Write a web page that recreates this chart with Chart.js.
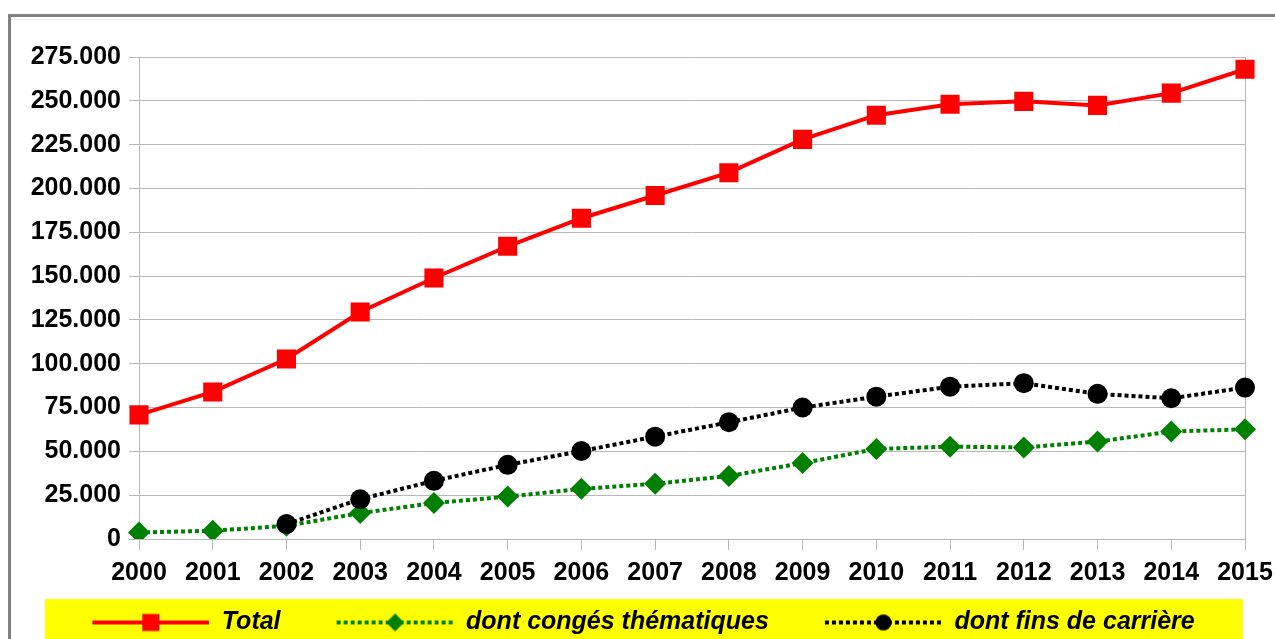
<!DOCTYPE html>
<html>
<head>
<meta charset="utf-8">
<script src="https://cdn.jsdelivr.net/npm/chart.js@4/dist/chart.umd.min.js"></script>
<style>
  html, body { margin: 0; padding: 0; background: #ffffff; overflow: hidden; }
  #wrap { position: absolute; left: 0; top: 0; width: 1275px; height: 639px; }
</style>
</head>
<body>
<div id="wrap"><canvas id="c" width="1275" height="639"></canvas></div>
<script>
// ---- Data ----
const years = ['2000','2001','2002','2003','2004','2005','2006','2007','2008','2009','2010','2011','2012','2013','2014','2015'];
const total = [70800, 83900, 102700, 129500, 148900, 167000, 183000, 196000, 209000, 228000, 241800, 248000, 249700, 247400, 254400, 268000];
const congesThematiques = [3700, 4700, 7500, 14800, 20500, 24200, 28600, 31500, 36000, 43300, 51400, 52700, 52200, 55600, 61300, 62600];
const finsDeCarriere = [null, null, 8500, 22700, 33200, 42300, 50200, 58400, 66600, 75000, 81200, 86900, 88900, 82800, 80300, 86400];
const seriesNames = ['Total', 'dont congés thématiques', 'dont fins de carrière'];
const yTickLabels = ['0','25.000','50.000','75.000','100.000','125.000','150.000','175.000','200.000','225.000','250.000','275.000'];

const RED = '#ff0000', GREEN = '#008000', BLACK = '#000000', GRID = '#b8b8b8';
const FONT = "'Liberation Sans', Arial, sans-serif";

// legend sample images (line + marker)
function legendImage(color, dashed, marker) {
  const cv = document.createElement('canvas');
  cv.width = 173; cv.height = 26;
  const c = cv.getContext('2d');
  const x0 = 56, x1 = 173, y = 13, xm = (x0 + x1) / 2;
  c.strokeStyle = color; c.lineWidth = 4; c.lineCap = 'butt';
  if (dashed) c.setLineDash([4, 3]);
  c.beginPath(); c.moveTo(x0, y); c.lineTo(x1, y); c.stroke();
  c.setLineDash([]);
  c.fillStyle = color;
  c.beginPath();
  if (marker === 'rect') { c.rect(xm - 8.5, y - 8.5, 17, 17); }
  else if (marker === 'diamond') { c.moveTo(xm, y - 9); c.lineTo(xm + 9, y); c.lineTo(xm, y + 9); c.lineTo(xm - 9, y); c.closePath(); }
  else { c.arc(xm, y, 8, 0, Math.PI * 2); }
  c.fill();
  return cv;
}
const legendImgs = [legendImage(RED, false, 'rect'), legendImage(GREEN, true, 'diamond'), legendImage(BLACK, true, 'circle')];

const decor = {
  id: 'decor',
  beforeDraw(chart) {
    const ctx = chart.ctx;
    ctx.save();
    ctx.fillStyle = '#ffffff';
    ctx.fillRect(0, 0, chart.width, chart.height);
    // outer frame
    ctx.fillStyle = '#808080';
    ctx.fillRect(8, 14, chart.width, 3);
    ctx.fillRect(8, 14, 3, chart.height);
    ctx.fillStyle = '#ececec';
    ctx.fillRect(11, 19, chart.width, 1);
    // yellow legend background
    ctx.fillStyle = '#ffff00';
    ctx.fillRect(45, 599, 1198, 50);
    ctx.restore();
  }
};

new Chart(document.getElementById('c'), {
  type: 'line',
  data: {
    labels: years,
    datasets: [
      { label: seriesNames[0], data: total, borderColor: RED, backgroundColor: RED, borderWidth: 4,
        pointStyle: 'rect', pointRadius: 13.5, pointHoverRadius: 13.5, pointBorderWidth: 0, pointBackgroundColor: RED, tension: 0, order: 2 },
      { label: seriesNames[1], data: congesThematiques, borderColor: GREEN, backgroundColor: GREEN, borderWidth: 4, borderDash: [4, 3],
        pointStyle: 'rectRot', pointRadius: 11, pointHoverRadius: 11, pointBorderWidth: 0, pointBackgroundColor: GREEN, tension: 0, order: 1 },
      { label: seriesNames[2], data: finsDeCarriere, borderColor: BLACK, backgroundColor: BLACK, borderWidth: 4, borderDash: [4, 3],
        pointStyle: 'circle', pointRadius: 10, pointHoverRadius: 10, pointBorderWidth: 0, pointBackgroundColor: BLACK, tension: 0, order: 0 }
    ]
  },
  options: {
    responsive: false,
    animation: false,
    layout: { padding: { left: -14, right: 30, top: 57, bottom: -6 } },
    plugins: {
      tooltip: { enabled: false },
      legend: {
        position: 'bottom',
        labels: {
          usePointStyle: true,
          pointStyleWidth: 173,
          padding: 0,
          color: '#000000',
          font: { family: FONT, size: 25, weight: 'bold', style: 'italic' },
          generateLabels(chart) {
            return chart.data.datasets.map((ds, i) => ({
              text: ds.label,
              datasetIndex: i,
              pointStyle: legendImgs[i],
              fillStyle: ds.borderColor,
              strokeStyle: ds.borderColor,
              lineWidth: 0,
              hidden: false,
              fontColor: '#000000'
            }));
          }
        }
      }
    },
    scales: {
      x: {
        offset: false,
        grid: {
          drawOnChartArea: true,
          color: (ctx) => (ctx.index === years.length - 1 ? GRID : 'rgba(0,0,0,0)'),
          tickColor: GRID,
          tickLength: 11,
          lineWidth: 1
        },
        border: { display: true, color: GRID, width: 1 },
        ticks: {
          color: '#000000',
          font: { family: FONT, size: 25, weight: 'bold' },
          padding: 8,
          maxRotation: 0,
          autoSkip: false
        },
        afterFit(scale) { scale.height = 71; scale.paddingLeft = 0; scale.paddingRight = 0; }
      },
      y: {
        min: 0,
        max: 275000,
        grid: { color: GRID, tickColor: GRID, tickLength: 10, lineWidth: 1 },
        border: { display: true, color: GRID, width: 1 },
        ticks: {
          stepSize: 25000,
          color: '#000000',
          font: { family: FONT, size: 25, weight: 'bold' },
          padding: 8,
          callback: (v) => yTickLabels[Math.round(v / 25000)]
        },
        afterFit(scale) { scale.width = 153; }
      }
    }
  },
  plugins: [decor]
});
</script>
</body>
</html>
